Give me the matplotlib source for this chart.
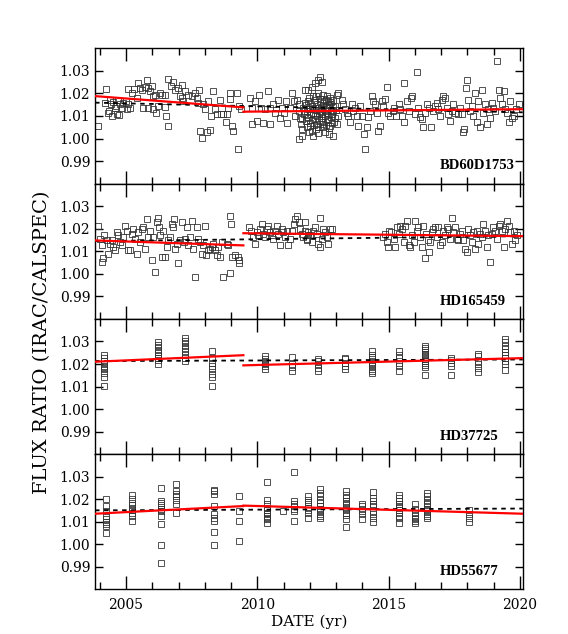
import numpy as np
import matplotlib.pyplot as plt

plt.rcParams["font.family"] = ["DejaVu Serif"]

# ---- data (year, IRAC/CALSPEC flux ratio) ----
bd60_obs = np.array([
    (2003.92, 1.0054), (2004.24, 1.0219), (2004.20, 1.0158), (2004.30, 1.0115),
    (2004.39, 1.0172), (2004.43, 1.0151), (2004.52, 1.0161), (2004.58, 1.0136),
    (2004.64, 1.0107), (2004.71, 1.0172), (2004.77, 1.0155), (2004.83, 1.0136),
    (2004.90, 1.0158), (2004.99, 1.0165), (2005.09, 1.0151), (2004.35, 1.0122),
    (2004.48, 1.0100), (2004.73, 1.0103), (2004.61, 1.0146), (2005.03, 1.0129),
    (2005.09, 1.0219), (2005.22, 1.0201), (2005.32, 1.0219), (2005.41, 1.0180),
    (2005.47, 1.0248), (2005.53, 1.0223), (2005.62, 1.0216), (2005.72, 1.0230),
    (2005.79, 1.0259), (2005.85, 1.0223), (2005.91, 1.0209), (2005.98, 1.0233),
    (2006.04, 1.0187), (2006.10, 1.0194), (2005.66, 1.0136), (2005.85, 1.0136),
    (2006.04, 1.0129), (2006.13, 1.0115), (2006.30, 1.0201), (2006.36, 1.0194),
    (2006.23, 1.0144), (2005.15, 1.0136), (2006.49, 1.0194), (2006.51, 1.0100),
    (2006.59, 1.0054), (2006.61, 1.0264), (2006.71, 1.0233), (2006.80, 1.0252),
    (2006.87, 1.0216), (2006.97, 1.0223), (2007.06, 1.0187), (2007.12, 1.0238),
    (2007.18, 1.0165), (2007.25, 1.0209), (2007.15, 1.0180), (2007.37, 1.0194),
    (2007.50, 1.0187), (2007.63, 1.0201), (2006.49, 1.0141), (2007.69, 1.0180),
    (2007.78, 1.0216), (2007.82, 1.0035), (2007.88, 1.0002), (2008.07, 1.0030),
    (2008.20, 1.0039), (2007.76, 1.0158), (2007.95, 1.0151), (2008.01, 1.0129),
    (2008.14, 1.0165), (2008.24, 1.0100), (2008.33, 1.0209), (2008.39, 1.0129),
    (2008.45, 1.0107), (2008.58, 1.0172), (2008.62, 1.0107), (2008.71, 1.0107),
    (2008.83, 1.0107), (2008.80, 1.0071), (2008.96, 1.0201), (2008.96, 1.0175),
    (2009.05, 1.0054), (2009.09, 1.0035), (2008.90, 1.0136), (2009.22, 1.0204),
    (2009.28, 0.9955), (2009.30, 1.0146), (2009.38, 1.0129),
    (2009.72, 1.0180), (2009.79, 1.0136), (2009.79, 1.0064), (2009.91, 1.0165),
    (2009.98, 1.0078), (2010.07, 1.0194), (2010.14, 1.0136), (2010.21, 1.0067),
    (2010.30, 1.0129), (2010.42, 1.0209), (2010.49, 1.0136), (2010.49, 1.0064),
    (2010.61, 1.0151), (2010.68, 1.0115), (2010.78, 1.0172), (2010.87, 1.0093),
    (2010.93, 1.0136), (2011.03, 1.0115), (2011.10, 1.0165), (2011.12, 1.0067),
    (2011.25, 1.0136), (2011.34, 1.0204), (2011.41, 1.0165), (2011.44, 1.0100),
    (2011.50, 1.0172), (2011.57, 1.0151), (2011.59, 1.0122), (2011.63, 1.0093),
    (2011.67, 1.0064), (2011.69, 1.0042), (2011.72, 1.0013), (2011.76, 1.0136),
    (2011.79, 1.0107), (2011.82, 1.0216), (2011.84, 1.0078), (2011.88, 1.0049),
    (2011.92, 1.0165), (2011.95, 1.0129), (2011.97, 1.0028), (2011.57, 0.9999),
    (2011.69, 1.0086), (2011.82, 1.0158),
    (2011.95, 1.0216), (2012.07, 1.0230), (2012.20, 1.0248), (2012.30, 1.0259),
    (2012.39, 1.0271), (2012.45, 1.0252), (2012.14, 1.0187), (2012.33, 1.0201),
    (2012.52, 1.0194), (2012.65, 1.0187), (2012.77, 1.0180), (2012.90, 1.0172),
    (2013.03, 1.0194), (2013.09, 1.0201), (2012.01, 1.0158), (2012.26, 1.0151),
    (2012.52, 1.0158), (2012.77, 1.0151), (2012.96, 1.0146), (2011.88, 1.0122),
    (2012.14, 1.0115), (2012.39, 1.0122), (2012.65, 1.0115), (2012.90, 1.0122),
    (2011.95, 1.0093), (2012.20, 1.0086), (2012.45, 1.0093), (2012.71, 1.0086),
    (2012.96, 1.0093), (2012.01, 1.0057), (2012.26, 1.0064), (2012.52, 1.0049),
    (2012.77, 1.0057), (2012.07, 1.0035), (2012.33, 1.0025), (2012.58, 1.0030),
    (2012.14, 1.0013), (2012.90, 1.0013), (2013.03, 1.0064), (2013.09, 1.0100),
    (2012.00, 1.0130), (2012.10, 1.0145), (2012.20, 1.0105), (2012.30, 1.0135),
    (2012.40, 1.0160), (2012.50, 1.0075), (2012.60, 1.0140), (2012.70, 1.0105),
    (2012.80, 1.0125), (2012.85, 1.0070), (2012.00, 1.0070), (2012.25, 1.0040),
    (2012.45, 1.0110), (2012.55, 1.0175), (2012.70, 1.0165), (2012.35, 1.0080),
    (2012.62, 1.0060), (2012.18, 1.0170), (2012.42, 1.0140), (2012.75, 1.0020),
    (2011.78, 1.0120), (2011.86, 1.0150), (2011.90, 1.0095), (2011.98, 1.0180),
    (2012.04, 1.0110), (2012.08, 1.0080), (2012.12, 1.0135), (2012.16, 1.0060),
    (2012.22, 1.0125), (2012.24, 1.0190), (2012.28, 1.0100), (2012.32, 1.0050),
    (2012.36, 1.0115), (2012.38, 1.0175), (2012.44, 1.0130), (2012.48, 1.0065),
    (2012.50, 1.0145), (2012.56, 1.0100), (2012.58, 1.0120), (2012.62, 1.0170),
    (2012.66, 1.0080), (2012.68, 1.0135), (2012.72, 1.0150), (2012.74, 1.0045),
    (2012.80, 1.0095), (2012.82, 1.0160), (2012.86, 1.0110), (2012.88, 1.0140),
    (2012.94, 1.0075), (2012.98, 1.0125),
    (2013.22, 1.0172), (2013.28, 1.0151), (2013.34, 1.0129), (2013.41, 1.0115),
    (2013.47, 1.0100), (2013.53, 1.0071), (2013.60, 1.0151), (2013.66, 1.0122),
    (2013.72, 1.0136), (2013.79, 1.0100), (2013.85, 1.0057), (2013.92, 1.0144),
    (2013.98, 1.0100), (2014.08, 1.0020), (2014.11, 0.9952), (2014.17, 1.0049),
    (2014.23, 1.0097), (2014.30, 1.0122), (2014.36, 1.0187), (2014.42, 1.0165),
    (2014.49, 1.0151), (2014.55, 1.0115), (2014.61, 1.0035), (2014.68, 1.0057),
    (2014.74, 1.0165), (2014.80, 1.0144), (2014.87, 1.0175), (2014.93, 1.0230),
    (2014.99, 1.0115), (2015.06, 1.0100), (2015.15, 1.0122), (2015.22, 1.0136),
    (2015.27, 1.0100), (2015.38, 1.0151), (2015.44, 1.0129), (2015.50, 1.0100),
    (2015.57, 1.0245), (2015.60, 1.0071), (2015.69, 1.0165), (2015.76, 1.0122),
    (2015.86, 1.0180), (2015.91, 1.0187), (2016.01, 1.0107), (2016.07, 1.0296),
    (2016.14, 1.0136), (2016.20, 1.0097), (2016.26, 1.0086), (2016.33, 1.0049),
    (2016.39, 1.0115), (2016.45, 1.0151), (2016.54, 1.0136), (2016.62, 1.0049),
    (2016.71, 1.0122), (2016.77, 1.0144), (2016.84, 1.0158), (2016.90, 1.0129),
    (2016.96, 1.0100), (2017.03, 1.0172), (2017.09, 1.0187), (2017.15, 1.0180),
    (2017.22, 1.0136), (2017.28, 1.0107), (2017.34, 1.0078), (2017.41, 1.0122),
    (2017.47, 1.0151), (2017.53, 1.0115), (2017.64, 1.0107), (2017.72, 1.0136),
    (2017.79, 1.0107), (2017.83, 1.0028), (2017.89, 1.0042), (2017.94, 1.0223),
    (2017.99, 1.0259), (2018.04, 1.0172), (2018.11, 1.0122), (2018.17, 1.0144),
    (2018.23, 1.0100), (2018.30, 1.0201), (2018.36, 1.0071), (2018.42, 1.0165),
    (2018.49, 1.0049), (2018.55, 1.0216), (2018.61, 1.0115), (2018.68, 1.0151),
    (2018.74, 1.0064), (2018.80, 1.0129), (2018.87, 1.0093), (2018.93, 1.0158),
    (2018.99, 1.0136), (2019.06, 1.0122), (2019.12, 1.0343), (2019.19, 1.0216),
    (2019.25, 1.0180), (2019.31, 1.0151), (2019.38, 1.0209), (2019.44, 1.0129),
    (2019.50, 1.0115), (2019.57, 1.0071), (2019.63, 1.0165), (2019.69, 1.0093),
    (2019.76, 1.0100), (2019.85, 1.0129), (2019.95, 1.0151),
])

hd165_obs = np.array([
    (2003.95, 1.0213), (2004.01, 1.0155), (2004.07, 1.0126), (2004.14, 1.0068),
    (2004.10, 1.0051), (2004.18, 1.0172), (2004.26, 1.0148), (2004.33, 1.0090),
    (2004.39, 1.0133), (2004.45, 1.0152), (2004.52, 1.0119), (2004.58, 1.0104),
    (2004.65, 1.0184), (2004.71, 1.0170), (2004.77, 1.0141), (2004.84, 1.0126),
    (2004.90, 1.0162), (2004.96, 1.0213), (2005.03, 1.0191), (2005.06, 1.0104),
    (2005.15, 1.0104), (2005.22, 1.0177), (2005.28, 1.0199), (2005.34, 1.0155),
    (2005.41, 1.0090), (2005.47, 1.0184), (2005.53, 1.0141), (2005.60, 1.0199),
    (2005.66, 1.0206), (2005.72, 1.0112), (2005.79, 1.0245), (2005.85, 1.0162),
    (2005.91, 1.0191), (2005.98, 1.0061), (2006.04, 1.0162), (2006.11, 1.0010),
    (2006.17, 1.0228), (2006.21, 1.0249), (2006.26, 1.0206), (2006.30, 1.0170),
    (2006.36, 1.0075), (2006.42, 1.0191), (2006.49, 1.0075), (2006.55, 1.0119),
    (2006.61, 1.0148), (2006.68, 1.0162), (2006.74, 1.0220), (2006.80, 1.0206),
    (2006.84, 1.0242), (2006.87, 1.0112), (2006.93, 1.0133), (2006.99, 1.0046),
    (2007.06, 1.0148), (2007.12, 1.0228), (2007.19, 1.0141), (2007.25, 1.0155),
    (2007.31, 1.0206), (2007.38, 1.0126), (2007.44, 1.0162), (2007.50, 1.0235),
    (2007.57, 1.0112), (2007.63, 0.9988), (2007.69, 1.0206), (2007.76, 1.0155),
    (2007.82, 1.0141), (2007.88, 1.0090), (2007.95, 1.0126), (2007.99, 1.0210),
    (2008.04, 1.0083), (2008.14, 1.0104), (2008.20, 1.0112), (2008.26, 1.0119),
    (2008.33, 1.0133), (2008.39, 1.0104), (2008.45, 1.0083), (2008.52, 1.0119),
    (2008.58, 1.0075), (2008.65, 1.0141), (2008.71, 0.9988), (2008.84, 1.0133),
    (2008.90, 1.0126), (2008.96, 1.0257), (2009.00, 1.0220), (2008.96, 1.0003),
    (2009.03, 1.0075), (2009.15, 1.0083), (2009.28, 1.0075), (2009.31, 1.0061),
    (2009.31, 1.0046),
    (2009.69, 1.0206), (2009.76, 1.0191), (2009.85, 1.0162), (2009.92, 1.0133),
    (2009.98, 1.0184), (2010.04, 1.0170), (2010.11, 1.0199), (2010.17, 1.0220),
    (2010.23, 1.0177), (2010.30, 1.0162), (2010.36, 1.0199), (2010.42, 1.0213),
    (2010.49, 1.0184), (2010.55, 1.0170), (2010.61, 1.0155), (2010.68, 1.0191),
    (2010.74, 1.0213), (2010.80, 1.0177), (2010.87, 1.0126), (2010.93, 1.0199),
    (2010.99, 1.0184), (2011.06, 1.0162), (2011.12, 1.0191), (2011.18, 1.0126),
    (2011.25, 1.0155), (2011.31, 1.0191), (2011.38, 1.0220), (2011.44, 1.0242),
    (2011.50, 1.0257), (2011.57, 1.0228), (2011.63, 1.0199), (2011.69, 1.0177),
    (2011.76, 1.0162), (2011.82, 1.0191), (2011.88, 1.0155), (2011.95, 1.0170),
    (2011.82, 1.0228), (2011.88, 1.0148), (2011.95, 1.0184), (2012.01, 1.0170),
    (2012.07, 1.0141), (2012.14, 1.0191), (2012.20, 1.0206), (2012.26, 1.0177),
    (2012.33, 1.0133), (2012.39, 1.0249), (2012.39, 1.0119), (2012.45, 1.0155),
    (2012.52, 1.0199), (2012.58, 1.0184), (2012.65, 1.0162), (2012.68, 1.0133),
    (2012.77, 1.0199), (2012.84, 1.0199),
    (2014.80, 1.0162), (2014.87, 1.0177), (2014.93, 1.0141), (2014.97, 1.0119),
    (2015.02, 1.0191), (2015.10, 1.0184), (2015.19, 1.0155), (2015.25, 1.0119),
    (2015.31, 1.0206), (2015.38, 1.0177), (2015.44, 1.0213), (2015.50, 1.0199),
    (2015.57, 1.0141), (2015.63, 1.0213), (2015.69, 1.0235), (2015.76, 1.0126),
    (2015.82, 1.0119), (2015.88, 1.0170), (2015.95, 1.0141), (2016.01, 1.0235),
    (2016.07, 1.0191), (2016.14, 1.0206), (2016.20, 1.0162), (2016.26, 1.0119),
    (2016.33, 1.0213), (2016.37, 1.0068), (2016.42, 1.0177), (2016.49, 1.0148),
    (2016.54, 1.0097), (2016.58, 1.0141), (2016.65, 1.0184), (2016.71, 1.0199),
    (2016.77, 1.0206), (2016.84, 1.0162), (2016.90, 1.0206), (2016.96, 1.0126),
    (2017.03, 1.0141), (2017.09, 1.0191), (2017.15, 1.0170), (2017.22, 1.0206),
    (2017.28, 1.0199), (2017.34, 1.0155), (2017.41, 1.0249), (2017.47, 1.0184),
    (2017.53, 1.0206), (2017.60, 1.0155), (2017.66, 1.0148), (2017.72, 1.0177),
    (2017.79, 1.0191), (2017.85, 1.0148), (2017.92, 1.0112), (2017.98, 1.0097),
    (2018.04, 1.0199), (2018.11, 1.0170), (2018.17, 1.0141), (2018.23, 1.0184),
    (2018.30, 1.0112), (2018.36, 1.0191), (2018.42, 1.0133), (2018.49, 1.0177),
    (2018.55, 1.0162), (2018.61, 1.0220), (2018.68, 1.0191), (2018.74, 1.0119),
    (2018.80, 1.0170), (2018.87, 1.0051), (2018.93, 1.0177), (2018.99, 1.0206),
    (2019.06, 1.0191), (2019.12, 1.0155), (2019.19, 1.0213), (2019.25, 1.0220),
    (2019.31, 1.0191), (2019.38, 1.0119), (2019.44, 1.0199), (2019.50, 1.0235),
    (2019.57, 1.0213), (2019.63, 1.0184), (2019.69, 1.0133), (2019.76, 1.0191),
    (2019.82, 1.0148), (2019.88, 1.0170),
])

# HD37725 and HD55677 were observed in short campaigns: epoch -> ratios
hd377_epochs = [2004.16, 2006.23, 2007.25, 2008.26, 2010.30, 2011.31, 2012.33,
                2013.34, 2014.36, 2015.38, 2016.37, 2017.37, 2018.42, 2019.44]
hd377_ratios = [
    [1.0242, 1.0228, 1.0213, 1.0199, 1.0191, 1.0184, 1.0177, 1.0162, 1.0141, 1.0104],
    [1.0296, 1.0286, 1.0275, 1.0264, 1.0252, 1.0242, 1.0228, 1.0217, 1.0199],
    [1.0314, 1.0304, 1.0293, 1.0281, 1.0271, 1.0257, 1.0242, 1.0228, 1.0213],
    [1.0257, 1.0228, 1.0206, 1.0191, 1.0177, 1.0155, 1.0141, 1.0101],
    [1.0235, 1.0223, 1.0213, 1.0206, 1.0199, 1.0191, 1.0177],
    [1.0232, 1.0199, 1.0188, 1.0170],
    [1.0223, 1.0213, 1.0199, 1.0184, 1.0170],
    [1.0228, 1.0220, 1.0206, 1.0191, 1.0180],
    [1.0257, 1.0242, 1.0232, 1.0220, 1.0209, 1.0199, 1.0191, 1.0180, 1.0170, 1.0162],
    [1.0257, 1.0242, 1.0228, 1.0206, 1.0191, 1.0170],
    [1.0281, 1.0271, 1.0261, 1.0252, 1.0246, 1.0238, 1.0232, 1.0223, 1.0213,
     1.0206, 1.0194, 1.0188, 1.0151],
    [1.0228, 1.0217, 1.0206, 1.0191, 1.0151],
    [1.0246, 1.0235, 1.0213, 1.0199, 1.0184, 1.0165],
    [1.0310, 1.0296, 1.0281, 1.0267, 1.0252, 1.0238, 1.0228, 1.0213, 1.0199, 1.0174],
]

hd556_epochs = [2004.24, 2005.22, 2006.32, 2006.90, 2008.35, 2009.31, 2010.36,
                2010.97, 2011.38, 2011.95, 2012.37, 2013.38, 2013.98, 2014.42,
                2015.41, 2016.01, 2016.46, 2018.07]
hd556_ratios = [
    [1.0201, 1.0170, 1.0148, 1.0126, 1.0112, 1.0101, 1.0090, 1.0083, 1.0049],
    [1.0220, 1.0203, 1.0184, 1.0174, 1.0162, 1.0151, 1.0141, 1.0126, 1.0104],
    [1.0252, 1.0194, 1.0184, 1.0174, 1.0159, 1.0148, 1.0126, 1.0090, 0.9996, 0.9916],
    [1.0267, 1.0235, 1.0223, 1.0213, 1.0199, 1.0177, 1.0141],
    [1.0242, 1.0235, 1.0223, 1.0170, 1.0133, 1.0119, 1.0104, 1.0054, 0.9996],
    [1.0213, 1.0148, 1.0104, 1.0014],
    [1.0275, 1.0199, 1.0177, 1.0162, 1.0151, 1.0141, 1.0133, 1.0126, 1.0119,
     1.0112, 1.0097],
    [1.0148],
    [1.0319, 1.0191, 1.0180, 1.0170, 1.0159, 1.0148, 1.0104],
    [1.0213, 1.0199, 1.0188, 1.0177, 1.0162, 1.0151, 1.0141, 1.0119],
    [1.0246, 1.0228, 1.0213, 1.0199, 1.0184, 1.0170, 1.0159, 1.0148, 1.0136,
     1.0126, 1.0119],
    [1.0238, 1.0220, 1.0206, 1.0194, 1.0184, 1.0174, 1.0162, 1.0151, 1.0141,
     1.0130, 1.0112, 1.0075],
    [1.0177, 1.0170, 1.0159, 1.0148, 1.0133, 1.0112],
    [1.0232, 1.0206, 1.0191, 1.0177, 1.0170, 1.0148, 1.0133, 1.0119, 1.0101],
    [1.0220, 1.0206, 1.0191, 1.0180, 1.0170, 1.0162, 1.0151, 1.0141, 1.0126,
     1.0119, 1.0097],
    [1.0180, 1.0155, 1.0141, 1.0126, 1.0119, 1.0112, 1.0104, 1.0093],
    [1.0228, 1.0213, 1.0199, 1.0184, 1.0177, 1.0165, 1.0155, 1.0148, 1.0136,
     1.0126, 1.0119],
    [1.0151, 1.0133, 1.0119, 1.0101],
]

star_names = ["BD60D1753", "HD165459", "HD37725", "HD55677"]

# fitted trends (value at start / end of each segment)
x_start, x_break, x_end = 2003.82, 2009.47, 2020.11
red_early = [(1.0188, 1.0138), (1.0148, 1.0126), (1.0210, 1.0239), (1.0136, 1.0170)]
red_late = [(1.0119, 1.0130), (1.0180, 1.0167), (1.0194, 1.0226), (1.0172, 1.0136)]
dashed_fit = [(1.0159, 1.0116), (1.0145, 1.0167), (1.0213, 1.0220), (1.0151, 1.0159)]


def expand(epochs, ratios):
    xs = np.concatenate([[e] * len(r) for e, r in zip(epochs, ratios)])
    ys = np.concatenate([r for r in ratios])
    return xs, ys


panels = [
    (bd60_obs[:, 0], bd60_obs[:, 1]),
    (hd165_obs[:, 0], hd165_obs[:, 1]),
    expand(hd377_epochs, hd377_ratios),
    expand(hd556_epochs, hd556_ratios),
]

fig, axes = plt.subplots(4, 1, sharex=True, figsize=(5.68, 6.34), dpi=100)
fig.subplots_adjust(left=0.1673, right=0.9203, bottom=0.0702, top=0.9238, hspace=0)

for i, ax in enumerate(axes):
    xs, ys = panels[i]
    ax.plot(xs, ys, linestyle="none", marker="s", markersize=4.2,
            markerfacecolor="none", markeredgecolor="0.2", markeredgewidth=0.7,
            alpha=0.85, zorder=2)
    ax.plot([x_start, x_end], dashed_fit[i], color="black", lw=1.3,
            linestyle=(0, (2.5, 2.5)), zorder=3)
    ax.plot([x_start, x_break], red_early[i], color="red", lw=1.6, zorder=4)
    ax.plot([x_break, x_end], red_late[i], color="red", lw=1.6, zorder=4)

    # star name, bottom right of each panel
    ax.text(0.807, 0.105, star_names[i], transform=ax.transAxes,
            ha="left", va="baseline", fontsize=10.5,
            family="Liberation Serif", fontweight="bold")

    ax.set_xlim(x_start, x_end)
    ax.set_ylim(0.98, 1.04)
    ax.set_yticks([0.99, 1.00, 1.01, 1.02, 1.03])
    ax.set_yticklabels(["0.99", "1.00", "1.01", "1.02", "1.03"])
    ax.set_xticks([2005, 2010, 2015, 2020])
    ax.set_xticks(np.arange(2004, 2021), minor=True)
    ax.tick_params(axis="both", which="both", direction="in",
                   top=True, right=True, width=1.0, labelsize=10)
    ax.tick_params(axis="x", which="major", length=9.5)
    ax.tick_params(axis="x", which="minor", length=5)
    ax.tick_params(axis="y", which="major", length=6)
    for s in ax.spines.values():
        s.set_linewidth(1.0)

axes[-1].tick_params(axis="x", which="major", pad=6)

fig.text(0.074, 0.46, "FLUX RATIO (IRAC/CALSPEC)", rotation=90,
         ha="center", va="center", fontsize=14)
fig.text(0.545, 0.019, "DATE (yr)", ha="center", va="center", fontsize=11)

fig.savefig("out.png", dpi=100)
